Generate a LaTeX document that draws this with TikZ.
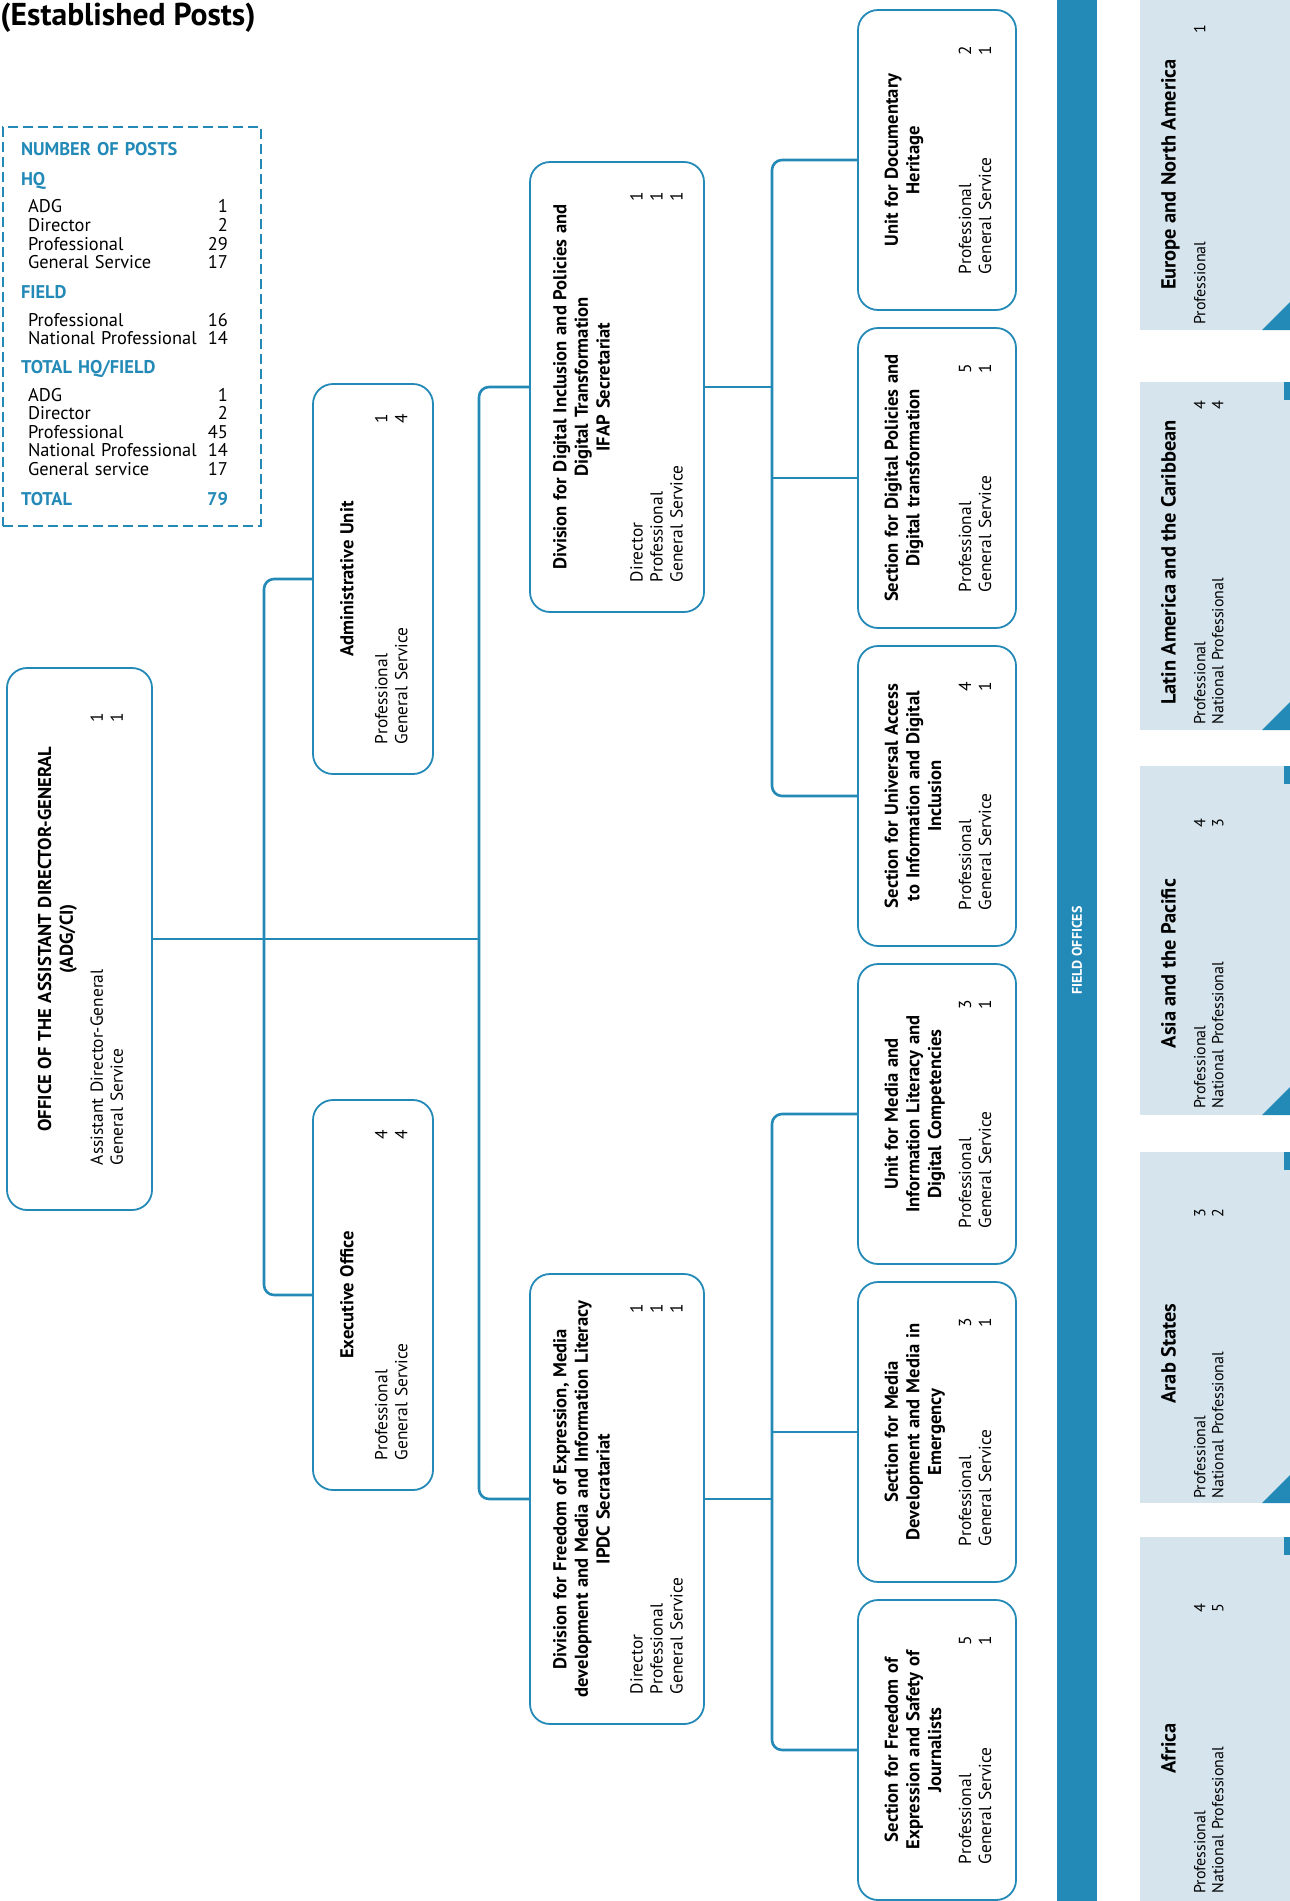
\documentclass[tikz,border=0pt]{standalone}
\usepackage{fontspec}
\setmainfont{PT Sans}
\definecolor{unescoblue}{HTML}{2389B6}
\definecolor{fieldgrey}{HTML}{D6E4ED}
\newcommand{\boxfont}{\fontsize{8.7}{10}\selectfont}
\newcommand{\postsfont}{\fontsize{9.2}{9.15}\selectfont}
\newcommand{\unittitle}[1]{\makebox[\linewidth][c]{\fontsize{9.3}{10.8}\selectfont\bfseries\begin{tabular}[b]{@{}c@{}}#1\end{tabular}}}
\newcommand{\fieldtitle}[1]{\makebox[\linewidth][c]{\fontsize{10.2}{13}\selectfont\bfseries\strut #1}}
\newcommand{\posthead}[1]{\textcolor{unescoblue}{\bfseries #1}}

\begin{document}
\begin{tikzpicture}[x=0.5pt, y=-0.5pt,
	unitbox/.style={draw=unescoblue, line width=0.9pt, rounded corners=10pt, rotate=90, inner sep=0pt, font=\boxfont},
	subunit/.style={unitbox, minimum width=150pt, text width=114pt, minimum height=79pt},
	division/.style={unitbox, minimum width=225pt, text width=195pt, minimum height=87pt},
	office/.style={unitbox, minimum width=195pt, text width=165pt, minimum height=60pt},
	fieldtext/.style={rotate=90, anchor=north west, inner sep=0pt, text width=145pt, font=\fontsize{8}{9}\selectfont},
	orgline/.style={draw=unescoblue, line width=1.3pt, rounded corners=5pt}]
	\useasboundingbox (0,0) rectangle (1290,1901);

	\node[anchor=base west, inner sep=0pt, font=\fontsize{15.8}{18}\selectfont\bfseries] (heading) at (0,25) {(Established Posts)};

	\node[draw=unescoblue, line width=1pt, dash pattern=on 5pt off 2.5pt, anchor=north west, inner xsep=9pt, inner ysep=0pt, text width=111pt, minimum height=199.5pt, font=\postsfont] (posts) at (2,126) {%
		\begin{tabular*}{\linewidth}{@{\hspace{3.5pt}}l@{\extracolsep{\fill}}r@{\hspace{7.5pt}}}
			\multicolumn{2}{@{}l}{\posthead{NUMBER OF POSTS}}\\[6pt]
			\multicolumn{2}{@{}l}{\posthead{HQ}}\\[4.3pt]
			ADG & 1\\
			Director & 2\\
			Professional & 29\\
			General Service & 17\\[5.8pt]
			\multicolumn{2}{@{}l}{\posthead{FIELD}}\\[4.3pt]
			Professional & 16\\
			National Professional & 14\\[5.3pt]
			\multicolumn{2}{@{}l}{\posthead{TOTAL HQ/FIELD}}\\[4.3pt]
			ADG & 1\\
			Director & 2\\
			Professional & 45\\
			National Professional & 14\\
			General service & 17\\[5.8pt]
			\multicolumn{1}{@{}l}{\posthead{TOTAL}} & \posthead{79}
		\end{tabular*}};

	\node[unitbox, minimum width=271pt, text width=226pt, minimum height=72.5pt] (adg) at (79.5,939) {\unittitle{OFFICE OF THE ASSISTANT DIRECTOR-GENERAL\\(ADG/CI)}\\[5pt]
		Assistant Director-General\hfill 1\\General Service\hfill 1};

	\node[office] (admin) at (373,579) {\unittitle{Administrative Unit}\\[7pt]
		Professional\hfill 1\\General Service\hfill 4};
	\node[office] (exec) at (373,1295) {\unittitle{Executive Office}\\[7pt]
		Professional\hfill 4\\General Service\hfill 4};

	\node[division] (divdi) at (617,387) {\unittitle{Division for Digital Inclusion and Policies and\\Digital Transformation\\IFAP Secretariat}\\[6.5pt]
		Director\hfill 1\\Professional\hfill 1\\General Service\hfill 1};
	\node[division] (divfoe) at (617,1499) {\unittitle{Division for Freedom of Expression, Media\\development and Media and Information Literacy\\IPDC Secratariat}\\[6.5pt]
		Director\hfill 1\\Professional\hfill 1\\General Service\hfill 1};

	\node[subunit] (docher) at (937,160) {\unittitle{Unit for Documentary\\Heritage\\{}}\\[5pt]
		Professional\hfill 2\\General Service\hfill 1};
	\node[subunit] (dpolicy) at (937,478) {\unittitle{Section for Digital Policies and\\Digital transformation\\{}}\\[5pt]
		Professional\hfill 5\\General Service\hfill 1};
	\node[subunit] (uaccess) at (937,796) {\unittitle{Section for Universal Access\\to Information and Digital\\Inclusion}\\[5pt]
		Professional\hfill 4\\General Service\hfill 1};
	\node[subunit] (mil) at (937,1114) {\unittitle{Unit for Media and\\Information Literacy and\\Digital Competencies}\\[5pt]
		Professional\hfill 3\\General Service\hfill 1};
	\node[subunit] (mediadev) at (937,1432) {\unittitle{Section for Media\\Development and Media in\\Emergency}\\[5pt]
		Professional\hfill 3\\General Service\hfill 1};
	\node[subunit] (foesec) at (937,1750) {\unittitle{Section for Freedom of\\Expression and Safety of\\Journalists}\\[5pt]
		Professional\hfill 5\\General Service\hfill 1};

	\coordinate (hqfork) at (264,939);
	\coordinate (trunk) at (479,939);
	\coordinate (difork) at (772,478);
	\coordinate (foefork) at (772,1432);
	\draw[orgline] (adg.south) -- (trunk);
	\draw[orgline] (admin.north) -| (hqfork) |- (exec.north);
	\draw[orgline] (divdi.north) -| (trunk) |- (divfoe.north);
	\draw[orgline] (divdi.south) -- (divdi.south -| difork);
	\draw[orgline] (docher.north) -| (difork) |- (uaccess.north);
	\draw[orgline] (difork) -- (dpolicy.north);
	\draw[orgline] (divfoe.south) -- (divfoe.south -| foefork);
	\draw[orgline] (mil.north) -| (foefork) |- (foesec.north);
	\draw[orgline] (foefork) -- (mediadev.north);

	\node[fill=unescoblue, rotate=90, minimum width=950.5pt, minimum height=20pt, inner sep=0pt, text=white, font=\fontsize{7}{9}\selectfont\bfseries] (fieldbar) at (1077,950.5) {FIELD OFFICES};

	\foreach \ytop/\ylow in {-20/330, 382/730, 766/1115, 1152/1503, 1537/1921}
		\fill[fieldgrey] (1140,\ytop) rectangle (1300,\ylow);
	\foreach \ylow in {330, 730, 1115, 1503}
		\fill[unescoblue] (1262,\ylow) -- (1290,\ylow) -- (1290,\ylow-28) -- cycle;
	\foreach \ytop in {382, 766, 1152, 1537}
		\fill[unescoblue] (1284,\ytop) rectangle (1290,\ytop+18);

	\node[fieldtext, text width=150pt] (europe) at (1157,325) {\fieldtitle{Europe and North America}\\[4.3pt]
		Professional\hfill 1};
	\node[fieldtext, text width=162pt] (latam) at (1157,725) {\fieldtitle{Latin America and the Caribbean}\\[4.3pt]
		Professional\hfill 4\\National Professional\hfill 4};
	\node[fieldtext] (asiapac) at (1157,1109) {\fieldtitle{Asia and the Pacific}\\[4.3pt]
		Professional\hfill 4\\National Professional\hfill 3};
	\node[fieldtext] (arabst) at (1157,1499) {\fieldtitle{Arab States}\\[4.3pt]
		Professional\hfill 3\\National Professional\hfill 2};
	\node[fieldtext] (africa) at (1157,1894) {\fieldtitle{Africa}\\[4.3pt]
		Professional\hfill 4\\National Professional\hfill 5};
\end{tikzpicture}
\end{document}
